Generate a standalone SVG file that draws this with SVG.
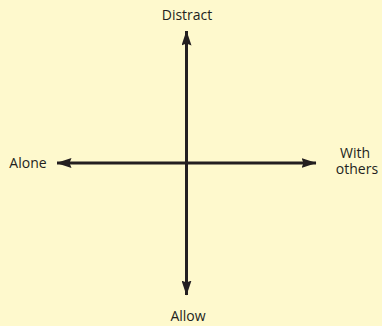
<svg xmlns="http://www.w3.org/2000/svg" width="382" height="326" viewBox="0 0 382 326">
<defs>
<marker id="ah" viewBox="0 0 15 10" refX="14.5" refY="5" markerWidth="15" markerHeight="10" markerUnits="userSpaceOnUse" orient="auto">
<path d="M0,0 L15,5 L0,10 L2,5 Z" fill="#231f20"/>
</marker>
</defs>
<style>
.t{font-family:"Open Sans","Liberation Sans",sans-serif;font-size:14px;fill:#231f20;text-anchor:middle}
.ax{stroke:#231f20;stroke-width:3;fill:none}
</style>
<rect width="382" height="326" fill="#fef9cd"/>
<g id="connectors">
<line class="ax" x1="186.5" y1="163" x2="186.5" y2="31" marker-end="url(#ah)"/>
<line class="ax" x1="186.5" y1="163" x2="186.5" y2="295" marker-end="url(#ah)"/>
<line class="ax" x1="186.5" y1="163" x2="57" y2="163" marker-end="url(#ah)"/>
<line class="ax" x1="186.5" y1="163" x2="316" y2="163" marker-end="url(#ah)"/>
</g>
<g id="distract"><text class="t" x="187" y="20">Distract</text></g>
<g id="allow"><text class="t" x="188" y="321">Allow</text></g>
<g id="alone"><text class="t" x="28" y="168">Alone</text></g>
<g id="with-others"><text class="t" x="355" y="158">With</text><text class="t" x="357" y="174">others</text></g>
</svg>
